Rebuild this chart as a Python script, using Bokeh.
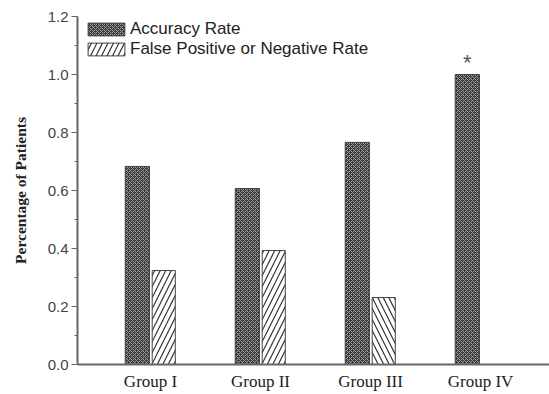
from bokeh.plotting import figure
from bokeh.models import ColumnDataSource, FixedTicker, Range1d, Legend, LegendItem
from bokeh.core.properties import value
from bokeh.embed import file_html
from bokeh.resources import INLINE

groups = ["Group I", "Group II", "Group III", "Group IV"]
group_pos = [1, 2, 3, 4]
accuracy = [0.683, 0.607, 0.766, 1.0]
false_rate = [0.324, 0.393, 0.231, 0.0]
false_hatch = ["/", "/", "\\", "/"]
y_ticks = [0.0, 0.2, 0.4, 0.6, 0.8, 1.0, 1.2]
y_minor = [0.1, 0.3, 0.5, 0.7, 0.9, 1.1]

off = 0.12
acc_src = ColumnDataSource(dict(x=[g - off for g in group_pos], top=accuracy))
fp_idx = [i for i, v in enumerate(false_rate) if v > 0]
fp_src = ColumnDataSource(dict(x=[group_pos[i] + off for i in fp_idx],
                               top=[false_rate[i] for i in fp_idx],
                               pattern=[false_hatch[i] for i in fp_idx]))

p = figure(width=549, height=394, output_backend="svg", toolbar_location=None,
           x_range=Range1d(0.336, 4.627), y_range=Range1d(0, 1.2),
           min_border_left=77, min_border_right=0, min_border_top=16, min_border_bottom=30)
p.outline_line_color = None
p.grid.grid_line_color = None
p.background_fill_color = "white"

r_acc = p.vbar(x="x", top="top", width=0.22, source=acc_src, fill_color="#3a3a3a",
               hatch_pattern="x", hatch_color="#a0a0a0", hatch_scale=4, hatch_weight=1,
               line_color="#444444", line_width=1)
r_fp = p.vbar(x="x", top="top", width=0.21, source=fp_src, fill_color="white",
              hatch_pattern="pattern", hatch_color="#333333", hatch_scale=11, hatch_weight=1.2,
              line_color="#444444", line_width=1)

# significance asterisk above Group IV
p.text(x=[group_pos[3] - off], y=[accuracy[3]], text=["*"], text_align="center",
       text_baseline="middle", y_offset=-12, text_font=value("Liberation Sans"),
       text_font_size="22px", text_color="#555555")

# axes
p.xaxis.ticker = FixedTicker(ticks=group_pos)
p.xaxis.major_label_overrides = {g: lab for g, lab in zip(group_pos, groups)}
p.xaxis.major_tick_line_color = None
p.xaxis.minor_tick_line_color = None
p.xaxis.axis_line_color = "#666666"
p.xaxis.axis_line_width = 2
p.xaxis.major_label_text_font = "Liberation Serif"
p.xaxis.major_label_text_font_size = "17px"
p.xaxis.major_label_text_color = "#222222"
p.xaxis.major_label_standoff = 1

p.yaxis.ticker = FixedTicker(ticks=y_ticks, minor_ticks=y_minor)
p.yaxis.major_label_overrides = {t: f"{t:.1f}" for t in y_ticks}
p.yaxis.axis_line_color = "#666666"
p.yaxis.axis_line_width = 2
p.yaxis.major_tick_line_color = "#666666"
p.yaxis.minor_tick_line_color = "#666666"
p.yaxis.major_tick_out = 6
p.yaxis.major_tick_in = 0
p.yaxis.minor_tick_out = 3
p.yaxis.minor_tick_in = 0
p.yaxis.major_label_text_font = "Liberation Sans"
p.yaxis.major_label_text_font_size = "15px"
p.yaxis.major_label_text_color = "#444444"
p.yaxis.major_label_standoff = 3
p.yaxis.axis_label = "Percentage of Patients"
p.yaxis.axis_label_text_font = "Liberation Serif"
p.yaxis.axis_label_text_font_style = "bold"
p.yaxis.axis_label_text_font_size = "15.5px"
p.yaxis.axis_label_text_color = "#222222"
p.yaxis.axis_label_standoff = 16

legend = Legend(items=[LegendItem(label="Accuracy Rate", renderers=[r_acc]),
                       LegendItem(label="False Positive or Negative Rate", renderers=[r_fp])],
                location=(6, 305))
legend.border_line_color = None
legend.background_fill_alpha = 0
legend.glyph_width = 46
legend.glyph_height = 16
legend.label_height = 20
legend.spacing = 0
legend.label_text_font = "Liberation Sans"
legend.label_text_font_size = "17px"
legend.label_text_color = "#222222"
legend.margin = 0
legend.padding = 0
legend.label_standoff = 1
p.add_layout(legend)

open("out.html", "w").write(file_html(p, INLINE))
